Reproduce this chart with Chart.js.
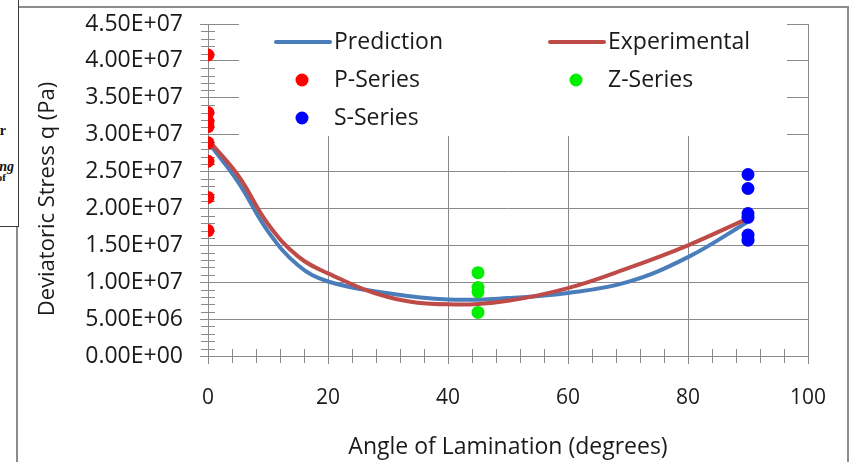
<!DOCTYPE html>
<html>
<head>
<meta charset="utf-8">
<title>Deviatoric Stress vs Angle of Lamination</title>
<script src="https://cdn.jsdelivr.net/npm/chart.js@4.4.1/dist/chart.umd.min.js"></script>
<style>
  html, body { margin: 0; padding: 0; background: #fff; }
  #wrap { position: relative; width: 852px; height: 462px; overflow: hidden; }
  #stressChart { position: absolute; left: 0; top: 0; }
  #frame { position: absolute; left: 16px; top: 6px; width: 833px; height: 480px; border: 2px solid #8c8c8c; box-sizing: border-box; pointer-events: none; }
  #sidebox { position: absolute; left: -3px; top: -4px; width: 22px; height: 231px; border: 1px solid #3a3a3a; box-sizing: border-box; background: #fff; overflow: hidden; font-family: "Liberation Serif", serif; font-weight: bold; font-size: 14px; color: #111; }
  #sidebox span { position: absolute; white-space: nowrap; }
</style>
</head>
<body>
<div id="wrap">
  <canvas id="stressChart" width="852" height="462"></canvas>
  <div id="frame"></div>
  <div id="sidebox">
    <span style="right: 12px; top: 126px;">for</span>
    <span style="right: 4px; top: 162px; font-style: italic;">using</span>
    <span style="right: 12px; top: 174px; font-size: 11px;">of</span>
  </div>
</div>
<script>
// axis ticks
const angleTicks = [0, 20, 40, 60, 80, 100];
const stressTicks = [0, 5e6, 1e7, 1.5e7, 2e7, 2.5e7, 3e7, 3.5e7, 4e7, 4.5e7];
const angleMinorStep = 4;
const stressMinorStep = 1e6;
const xTitle = 'Angle of Lamination (degrees)';
const yTitle = 'Deviatoric Stress q (Pa)';

// smoothed curves
const predAngles = [0, 5, 10, 15, 20, 30, 40, 50, 60, 70, 80, 90];
const predValues = [2.90e7, 2.36e7, 1.69e7, 1.23e7, 1.01e7, 8.5e6, 7.65e6, 7.85e6, 8.55e6, 1.005e7, 1.34e7, 1.82e7];
const expAngles = [0, 5, 10, 15, 20, 30, 40, 50, 60, 70, 80, 90];
const expValues = [2.93e7, 2.45e7, 1.79e7, 1.35e7, 1.12e7, 8.0e6, 7.0e6, 7.5e6, 9.2e6, 1.19e7, 1.50e7, 1.866e7];

// test points
const pSeriesAngle = 0;
const pSeriesValues = [4.08e7, 3.30e7, 3.18e7, 3.11e7, 2.89e7, 2.64e7, 2.15e7, 1.70e7];
const zSeriesAngle = 45;
const zSeriesValues = [1.13e7, 9.3e6, 8.7e6, 5.9e6];
const sSeriesAngle = 90;
const sSeriesValues = [2.46e7, 2.27e7, 1.93e7, 1.88e7, 1.64e7, 1.57e7];

const gridColor = '#8a8a8a';
const textColor = '#1a1a1a';
const fontFamily = '"Open Sans", sans-serif';

function sci(v) {
  const [m, e] = v.toExponential(2).split('e');
  const n = parseInt(e, 10);
  return m + 'E' + (n < 0 ? '-' : '+') + String(Math.abs(n)).padStart(2, '0');
}

function pairs(xs, ys) {
  return ys.map((v, i) => ({ x: Array.isArray(xs) ? xs[i] : xs, y: v }));
}

// small ticks crossing both axes
const minorTicks = {
  id: 'minorTicks',
  beforeDatasetsDraw(chart) {
    const { ctx, scales: { x, y } } = chart;
    ctx.save();
    ctx.strokeStyle = gridColor;
    ctx.lineWidth = 1;
    ctx.beginPath();
    const aMax = angleTicks[angleTicks.length - 1];
    for (let a = 0; a <= aMax; a += angleMinorStep) {
      if (angleTicks.includes(a)) continue;
      const px = Math.round(x.getPixelForValue(a)) + 0.5;
      ctx.moveTo(px, y.bottom - 7);
      ctx.lineTo(px, y.bottom + 7);
    }
    const sMax = stressTicks[stressTicks.length - 1];
    for (let i = 1; i * stressMinorStep < sMax; i++) {
      if (i % 5 === 0) continue;
      const py = Math.round(y.getPixelForValue(i * stressMinorStep)) + 0.5;
      ctx.moveTo(x.left - 7, py);
      ctx.lineTo(x.left + 7, py);
    }
    ctx.stroke();
    ctx.restore();
  }
};

// y title sits a little below the centre of the axis, like the original
const yAxisTitle = {
  id: 'yAxisTitle',
  afterDraw(chart) {
    const { ctx, chartArea } = chart;
    ctx.save();
    ctx.translate(48, (chartArea.top + chartArea.bottom) / 2 + 9);
    ctx.rotate(-Math.PI / 2);
    ctx.font = '22px ' + fontFamily;
    ctx.fillStyle = textColor;
    ctx.textAlign = 'center';
    ctx.textBaseline = 'middle';
    ctx.fillText(yTitle, 0, 0);
    ctx.restore();
  }
};

// legend box drawn over the top of the plot
const legendBox = {
  id: 'legendBox',
  beforeDatasetsDraw(chart) {
    const { ctx, chartArea: { left, top } } = chart;
    const ds = chart.data.datasets;
    ctx.save();
    ctx.fillStyle = '#fff';
    ctx.fillRect(left + 31, top - 8, 548, 120);
    ctx.font = '23px ' + fontFamily;
    ctx.textBaseline = 'middle';
    const items = [
      { d: ds[0], col: 0, row: 0 },
      { d: ds[1], col: 1, row: 0 },
      { d: ds[2], col: 0, row: 1 },
      { d: ds[3], col: 1, row: 1 },
      { d: ds[4], col: 0, row: 2 }
    ];
    items.forEach(it => {
      const x0 = left + (it.col ? 342 : 68);
      const yc = top + 18 + it.row * 38;
      if (it.d.showLine) {
        ctx.strokeStyle = it.d.borderColor;
        ctx.lineWidth = 4;
        ctx.lineCap = 'round';
        ctx.beginPath();
        ctx.moveTo(x0, yc);
        ctx.lineTo(x0 + 54, yc);
        ctx.stroke();
      } else {
        ctx.fillStyle = it.d.backgroundColor;
        ctx.beginPath();
        ctx.arc(x0 + 26, yc, 6.5, 0, Math.PI * 2);
        ctx.fill();
      }
      ctx.fillStyle = textColor;
      ctx.fillText(it.d.label, x0 + 58, yc);
    });
    ctx.restore();
  }
};

new Chart(document.getElementById('stressChart').getContext('2d'), {
  type: 'scatter',
  data: {
    datasets: [
      {
        label: 'Prediction',
        data: pairs(predAngles, predValues),
        showLine: true,
        borderColor: '#4a7ebb',
        borderWidth: 4,
        pointRadius: 0,
        tension: 0.4,
        order: 3
      },
      {
        label: 'Experimental',
        data: pairs(expAngles, expValues),
        showLine: true,
        borderColor: '#be4b48',
        borderWidth: 4,
        pointRadius: 0,
        tension: 0.4,
        order: 2
      },
      {
        label: 'P-Series',
        data: pairs(pSeriesAngle, pSeriesValues),
        backgroundColor: '#ff0000',
        pointRadius: 6.5,
        pointBorderWidth: 0,
        order: 1
      },
      {
        label: 'Z-Series',
        data: pairs(zSeriesAngle, zSeriesValues),
        backgroundColor: '#00ee00',
        pointRadius: 6.5,
        pointBorderWidth: 0,
        order: 1
      },
      {
        label: 'S-Series',
        data: pairs(sSeriesAngle, sSeriesValues),
        backgroundColor: '#0000ff',
        pointRadius: 6.5,
        pointBorderWidth: 0,
        order: 1
      }
    ]
  },
  options: {
    responsive: false,
    devicePixelRatio: 1,
    animation: false,
    layout: { padding: { left: 0, top: 24, right: 44, bottom: 0 } },
    plugins: { legend: { display: false }, tooltip: { enabled: false } },
    scales: {
      x: {
        type: 'linear',
        min: angleTicks[0],
        max: angleTicks[angleTicks.length - 1],
        afterBuildTicks: s => { s.ticks = angleTicks.map(v => ({ value: v })); },
        afterFit: s => { s.height = 106; },
        grid: { color: gridColor, tickLength: 8, lineWidth: 1 },
        border: { color: gridColor, width: 1 },
        ticks: { color: textColor, font: { family: fontFamily, size: 21 }, padding: 21, maxRotation: 0 },
        title: {
          display: true,
          text: xTitle,
          color: textColor,
          font: { family: fontFamily, size: 23 },
          padding: { top: 0, bottom: 1 }
        }
      },
      y: {
        type: 'linear',
        min: stressTicks[0],
        max: stressTicks[stressTicks.length - 1],
        afterBuildTicks: s => { s.ticks = stressTicks.map(v => ({ value: v })); },
        afterFit: s => { s.width = 208; s.paddingTop = 0; s.paddingBottom = 0; },
        grid: { color: gridColor, tickLength: 8, lineWidth: 1 },
        border: { color: gridColor, width: 1 },
        ticks: { color: textColor, font: { family: fontFamily, size: 23 }, padding: 17, callback: v => sci(v) }
      }
    }
  },
  plugins: [minorTicks, legendBox, yAxisTitle]
});
</script>
</body>
</html>
